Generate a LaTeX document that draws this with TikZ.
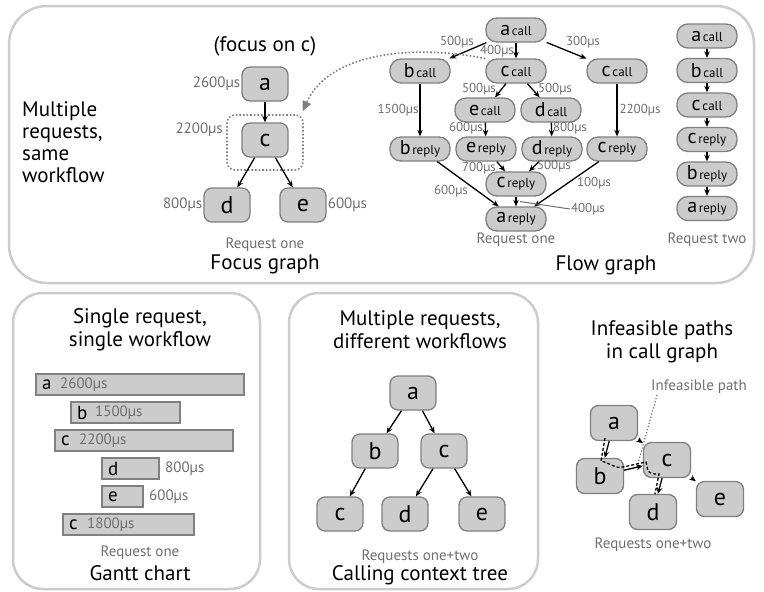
\documentclass[tikz,border=0pt]{standalone}
\usepackage{fontspec}
\setmainfont{PT Sans}
\usetikzlibrary{arrows.meta,calc}

\definecolor{nodegray}{HTML}{CCCCCC}
\definecolor{edgegray}{HTML}{808080}
\definecolor{labelgray}{HTML}{6E6E6E}
\definecolor{panelgray}{HTML}{CCCCCC}

\newcommand{\fsz}[1]{\fontsize{#1}{#1}\selectfont}
\newcommand{\fl}[2]{{\fsz{20}#1}\,{\fsz{13}#2}}

\begin{document}
\begin{tikzpicture}[x=1pt, y=-1pt, >={Stealth[length=6.5pt,width=5.5pt]},
    panel/.style={draw=panelgray, line width=2.5pt, rounded corners=38pt},
    box/.style={draw=edgegray, fill=nodegray, line width=1.3pt, rounded corners=8pt,
        minimum width=46pt, minimum height=34pt, inner sep=0pt, font=\fsz{24}},
    flow/.style={draw=edgegray, fill=nodegray, line width=1.3pt, rounded corners=11pt,
        minimum width=60pt, minimum height=24pt, inner sep=0pt},
    bar/.style={draw=edgegray, fill=nodegray, line width=1.2pt},
    lbl/.style={text=labelgray, font=\fsz{13}, inner sep=1pt},
    tlbl/.style={text=labelgray, font=\fsz{15}, inner sep=1pt},
    ttl/.style={font=\fontsize{21}{23}\selectfont, align=center, inner sep=0pt},
    arr/.style={->, line width=1.3pt}]

    \useasboundingbox (0,0) rectangle (764,592);

    % panels
    \draw[panel] (9,6) rectangle (754,283);
    \draw[panel, rounded corners=30pt] (13,293) rectangle (260,589);
    \draw[panel, rounded corners=30pt] (289,293) rectangle (538,589);

    \node[ttl, align=left, anchor=west, font=\fontsize{21}{22}\selectfont] at (22,142)
        {Multiple\\requests,\\same\\workflow};

    % focus graph
    \node[ttl] at (265,46) {(focus on c)};
    \node[box] (fa) at (265,84) {a};
    \node[box] (fc) at (265,140) {c};
    \node[box] (fd) at (227,205) {d};
    \node[box] (fe) at (303,205) {e};
    \node[draw=edgegray, dotted, line width=1.6pt, rounded corners=8pt,
        minimum width=76pt, minimum height=55pt] (fbox) at (265,142.5) {};
    \draw[arr] (fa) -- (fc);
    \draw[arr] (fc) -- (fd);
    \draw[arr] (fc) -- (fe);
    \node[tlbl, anchor=east] at (fa.west) {2600µs};
    \node[tlbl, anchor=east] at (224,130) {2200µs};
    \node[tlbl, anchor=east] at (fd.west) {800µs};
    \node[tlbl, anchor=west] at (fe.east) {600µs};
    \node[tlbl] at (265,245) {Request one};
    \node[ttl] at (265,264) {Focus graph};

    % flow graph, request one
    \node[flow] (acall) at (516,30) {\fl{a}{call}};
    \node[flow] (bcall) at (420,71) {\fl{b}{call}};
    \node[flow] (ccall) at (516,71) {\fl{c}{call}};
    \node[flow] (ccallr) at (617,71) {\fl{c}{call}};
    \node[flow] (ecall) at (485,110) {\fl{e}{call}};
    \node[flow] (dcall) at (551,110) {\fl{d}{call}};
    \node[flow] (brep) at (420,149) {\fl{b}{reply}};
    \node[flow] (erep) at (486,149) {\fl{e}{reply}};
    \node[flow] (drep) at (552,149) {\fl{d}{reply}};
    \node[flow] (crepr) at (617,149) {\fl{c}{reply}};
    \node[flow] (crep) at (516,184) {\fl{c}{reply}};
    \node[flow] (arep) at (516,219) {\fl{a}{reply}};

    \foreach \p/\q in {acall/bcall, acall/ccall, acall/ccallr, ccall/ecall, ccall/dcall,
        bcall/brep, ecall/erep, dcall/drep, ccallr/crepr, erep/crep, drep/crep,
        brep/arep, crep/arep, crepr/arep}
        \draw[arr] (\p) -- (\q);

    \node[lbl] at (457,42) {500µs};
    \node[lbl] at (497,51) {400µs};
    \node[lbl] at (583,42) {300µs};
    \node[lbl] at (479,89) {500µs};
    \node[lbl] at (555,89) {500µs};
    \node[lbl] at (398,110) {1500µs};
    \node[lbl] at (466,128) {600µs};
    \node[lbl] at (570,128) {800µs};
    \node[lbl] at (640,110) {2200µs};
    \node[lbl] at (479,168) {700µs};
    \node[lbl] at (554,166) {500µs};
    \node[lbl] at (451,191) {600µs};
    \node[lbl] at (594,183) {100µs};
    \node[lbl] (l400) at (588,209) {400µs};
    \coordinate (cmid) at ($(crep.south)!0.5!(arep.north)$);
    \draw[labelgray, line width=1pt] ([xshift=4pt]cmid) -- (l400.west);
    \node[tlbl] at (516,240) {Request one};
    \node[ttl] at (606,265) {Flow graph};

    % dotted pointer to the focus
    \draw[edgegray, dotted, line width=1.6pt, -{Triangle[length=10pt,width=9pt]}]
        (ccall.158) .. controls (420,45) and (330,50) .. ([shift={(-1pt,3pt)}]fbox.north east);

    % flow graph, request two
    \foreach \n/\a/\b [count=\i] in {r1/a/call, r2/b/call, r3/c/call, r4/c/reply, r5/b/reply, r6/a/reply}
        \node[flow] (\n) at (707,{36+34.5*(\i-1)}) {\fl{\a}{\b}};
    \foreach \p/\q in {r1/r2, r2/r3, r3/r4, r4/r5, r5/r6}
        \draw[arr] (\p) -- (\q);
    \node[tlbl] at (707,240) {Request two};

    % Gantt chart
    \node[ttl] at (140,330) {Single request,\\single workflow};
    \foreach \x/\w/\y/\n/\t in {36/208/374/a/2600µs, 71/109/402/b/1500µs, 55/178/430/c/2200µs, 63/131/514/c/1800µs} {
        \draw[bar] (\x,\y) rectangle ++(\w,21);
        \node[anchor=west, font=\fsz{19}, inner sep=0pt] at (\x+6,\y+10.5) {\n};
        \node[tlbl, anchor=west, inner sep=0pt] at (\x+24,\y+11) {\t};
    }
    \foreach \x/\w/\y/\n/\t in {102/57/458/d/800µs, 102/41/486/e/600µs} {
        \draw[bar] (\x,\y) rectangle ++(\w,21);
        \node[anchor=west, font=\fsz{19}, inner sep=0pt] at (\x+6,\y+10.5) {\n};
        \node[tlbl, anchor=west, inner sep=0pt] at (\x+\w+6,\y+11) {\t};
    }
    \node[tlbl] at (140,553) {Request one};
    \node[ttl] at (140,573) {Gantt chart};

    % calling context tree
    \node[ttl] at (420,330) {Multiple requests,\\different workflows};
    \node[box] (ta) at (413,393) {a};
    \node[box] (tb) at (375,451) {b};
    \node[box] (tc) at (444,451) {c};
    \node[box] (tcb) at (340,514) {c};
    \node[box] (td) at (405,514) {d};
    \node[box] (te) at (482,514) {e};
    \foreach \p/\q in {ta/tb, ta/tc, tb/tcb, tc/td, tc/te}
        \draw[arr] (\p) -- (\q);
    \node[tlbl] at (420,557) {Requests one+two};
    \node[ttl] at (420,575) {Calling context tree};

    % infeasible paths
    \node[ttl] at (662,342) {Infeasible paths\\in call graph};
    \node[tlbl] (ipath) at (699,387) {Infeasible path};
    \node[box, minimum width=47pt, minimum height=35pt] (ia) at (614,423) {a};
    \node[box, minimum width=47pt, minimum height=35pt] (ib) at (600,476) {b};
    \node[box, minimum width=47pt, minimum height=35pt] (ic) at (667,460) {c};
    \node[box, minimum width=47pt, minimum height=35pt] (id) at (653,512) {d};
    \node[box, minimum width=47pt, minimum height=35pt] (ie) at (720,499) {e};
    \coordinate (ipend) at (637,467);
    \draw[labelgray, dotted, line width=1.2pt] ([xshift=7pt]ipath.south west) -- (ipend);
    \foreach \p/\q in {ia/ib, ia/ic, ib/ic, ic/id, ic/ie}
        \draw[arr] (\p) -- (\q);
    \draw[line width=1.3pt, dash pattern=on 3pt off 2pt]
        (605,438) -- (601,461) .. controls (610,463) and (615,469) .. (623,467)
        -- (646,462) -- (648,471) .. controls (652,474) .. (659,474) -- (655,494);
    \node[tlbl] at (653,545) {Requests one+two};

\end{tikzpicture}
\end{document}
